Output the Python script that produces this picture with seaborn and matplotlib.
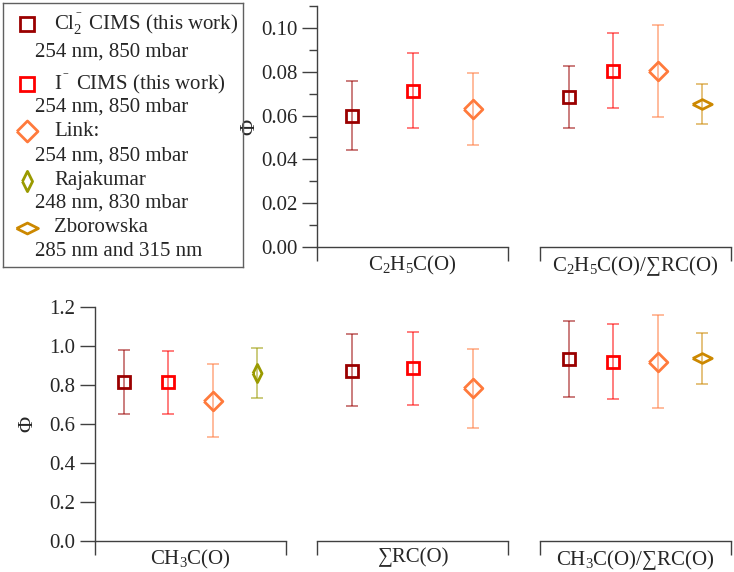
import numpy as np
import pandas as pd
import matplotlib.pyplot as plt
import seaborn as sns
from matplotlib.ticker import MultipleLocator, FormatStrFormatter

sns.set_theme(style="ticks")
plt.rcParams['font.family'] = ['Liberation Serif', 'DejaVu Serif']
plt.rcParams['mathtext.fontset'] = 'custom'
plt.rcParams['mathtext.rm'] = 'Liberation Serif'
plt.rcParams['mathtext.it'] = 'Liberation Serif:italic'
plt.rcParams['mathtext.bf'] = 'Liberation Serif:bold'

# panels (categories) in drawing order
panels = [r'C$_2$H$_5$C(O)', r'C$_2$H$_5$C(O)/∑RC(O)',
          r'CH$_3$C(O)', '∑RC(O)', r'CH$_3$C(O)/∑RC(O)']

sources = ['Cl2', 'I', 'Link', 'Rajakumar', 'Zborowska']

# quantum yields (nan = not reported)
cl2_val = [0.0600, 0.0685, 0.816, 0.874, 0.931]
cl2_lo = [0.0443, 0.0542, 0.651, 0.691, 0.736]
cl2_hi = [0.0756, 0.0828, 0.978, 1.059, 1.128]

i_val = [0.0714, 0.0805, 0.816, 0.886, 0.919]
i_lo = [0.0543, 0.0636, 0.650, 0.700, 0.726]
i_hi = [0.0886, 0.0976, 0.975, 1.070, 1.112]

link_val = [0.0629, 0.0804, 0.719, 0.783, 0.919]
link_lo = [0.0466, 0.0595, 0.532, 0.580, 0.681]
link_hi = [0.0795, 0.1014, 0.907, 0.987, 1.158]

raj_val = [np.nan, np.nan, 0.859, np.nan, np.nan]
raj_lo = [np.nan, np.nan, 0.733, np.nan, np.nan]
raj_hi = [np.nan, np.nan, 0.988, np.nan, np.nan]

zbor_val = [np.nan, 0.0653, np.nan, np.nan, 0.936]
zbor_lo = [np.nan, 0.0563, np.nan, np.nan, 0.804]
zbor_hi = [np.nan, 0.0744, np.nan, np.nan, 1.065]

legend_first = [r'Cl$_2^{^-}$ CIMS (this work)', r'I$^{^-}$ CIMS (this work)',
                'Link:', 'Rajakumar', 'Zborowska']
legend_second = ['254 nm, 850 mbar', '254 nm, 850 mbar', '254 nm, 850 mbar',
                 '248 nm, 830 mbar', '285 nm and 315 nm']

rows = []
for src, v, lo, hi in zip(sources,
                          [cl2_val, i_val, link_val, raj_val, zbor_val],
                          [cl2_lo, i_lo, link_lo, raj_lo, zbor_lo],
                          [cl2_hi, i_hi, link_hi, raj_hi, zbor_hi]):
    for p, a, b, c in zip(panels, v, lo, hi):
        rows.append(dict(panel=p, source=src, phi=a, lo=b, hi=c))
df = pd.DataFrame(rows).dropna()

diamond = [(-1, 0), (0, 1), (1, 0), (0, -1), (-1, 0)]
thin_d = [(-0.5, 0), (0, 1), (0.5, 0), (0, -1), (-0.5, 0)]
flat_d = [(-1, 0), (0, 0.5), (1, 0), (0, -0.5), (-1, 0)]
style = {
    'Cl2': dict(marker='s', ms=8.5, color='#9a0000'),
    'I': dict(marker='s', ms=8.5, color='#ff0000'),
    'Link': dict(marker=diamond, ms=13.5, color='#ff7a3c'),
    'Rajakumar': dict(marker=thin_d, ms=13, color='#9a9a00'),
    'Zborowska': dict(marker=flat_d, ms=14, color='#cc8800'),
}

FS = 15
W, H = 734, 572
fig = plt.figure(figsize=(W / 100, H / 100), dpi=100)

top_b, top_h = 1 - 247 / H, (247 - 6) / H
bot_b, bot_h = 1 - 541 / H, (541 - 307) / H
cw = 191 / W
rects = [(317 / W, top_b, cw, top_h), (540 / W, top_b, cw, top_h),
         (95 / W, bot_b, cw, bot_h), (317 / W, bot_b, cw, bot_h),
         (540 / W, bot_b, cw, bot_h)]
first_in_row = [True, False, True, False, False]
gray = '#404040'

for k, (name, rect) in enumerate(zip(panels, rects)):
    ax = fig.add_axes(rect)
    ax.patch.set_alpha(0)
    sub = df[df.panel == name].reset_index(drop=True)
    n = len(sub)
    x = np.arange(n)
    for xi, r in zip(x, sub.itertuples()):
        st = style[r.source]
        ax.errorbar(xi, r.phi, yerr=[[r.phi - r.lo], [r.hi - r.phi]], fmt='none',
                    ecolor=st['color'], alpha=0.55, elinewidth=1.3,
                    capsize=4.5, capthick=1.3)
        ax.plot(xi, r.phi, linestyle='none', marker=st['marker'], ms=st['ms'],
                mfc='none', mec=st['color'], mew=2.0)
    pad = 0.59 if n == 3 else 0.655
    ax.set_xlim(-pad, n - 1 + pad)
    if k < 2:
        ax.set_ylim(0, 0.11)
        ax.yaxis.set_major_locator(MultipleLocator(0.02))
        ax.yaxis.set_minor_locator(MultipleLocator(0.01))
        ax.yaxis.set_major_formatter(FormatStrFormatter('%.2f'))
    else:
        ax.set_ylim(0, 1.2)
        ax.yaxis.set_major_locator(MultipleLocator(0.2))
        ax.yaxis.set_major_formatter(FormatStrFormatter('%.1f'))

    sns.despine(ax=ax, left=not first_in_row[k])
    for s in ['left', 'bottom']:
        ax.spines[s].set_color(gray)
        ax.spines[s].set_linewidth(1.0)

    ax.set_xticks([(n - 1) / 2], [name])
    ax.set_xticks([-pad, n - 1 + pad], minor=True)
    ax.tick_params(axis='x', which='major', length=0, pad=5, labelsize=FS)
    ax.tick_params(axis='x', which='minor', length=10, width=1.0, color=gray,
                   direction='out')
    if first_in_row[k]:
        ax.tick_params(axis='y', which='major', length=11, width=1.0, color=gray,
                       direction='out', labelsize=FS, pad=3)
        ax.tick_params(axis='y', which='minor', length=6, width=1.0, color=gray,
                       direction='out')
        ax.set_ylabel('Φ', fontsize=16)
        ax.yaxis.set_label_coords(-58 / 191, 0.5)
    else:
        ax.tick_params(axis='y', which='both', left=False, labelleft=False)

# legend box, laid out in pixel units
lg = fig.add_axes([3 / W, 1 - 267 / H, 240 / W, 264 / H])
lg.patch.set_alpha(0)
lg.set_xlim(0, 240)
lg.set_ylim(264, 0)
lg.set_xticks([])
lg.set_yticks([])
for s in lg.spines.values():
    s.set_visible(True)
    s.set_color('#606060')
    s.set_linewidth(1.0)
y1 = [21, 81, 128, 178, 225]
y2 = [49, 104, 153, 200, 249]
for src, t1, t2, a, b in zip(sources, legend_first, legend_second, y1, y2):
    st = style[src]
    lg.plot(24, a, linestyle='none', marker=st['marker'], ms=st['ms'] * 1.12,
            mfc='none', mec=st['color'], mew=2.0)
    lg.text(51, a, t1, fontsize=FS, va='center', ha='left')
    lg.text(32, b, t2, fontsize=FS, va='center', ha='left')

fig.savefig('out.png', dpi=100)
